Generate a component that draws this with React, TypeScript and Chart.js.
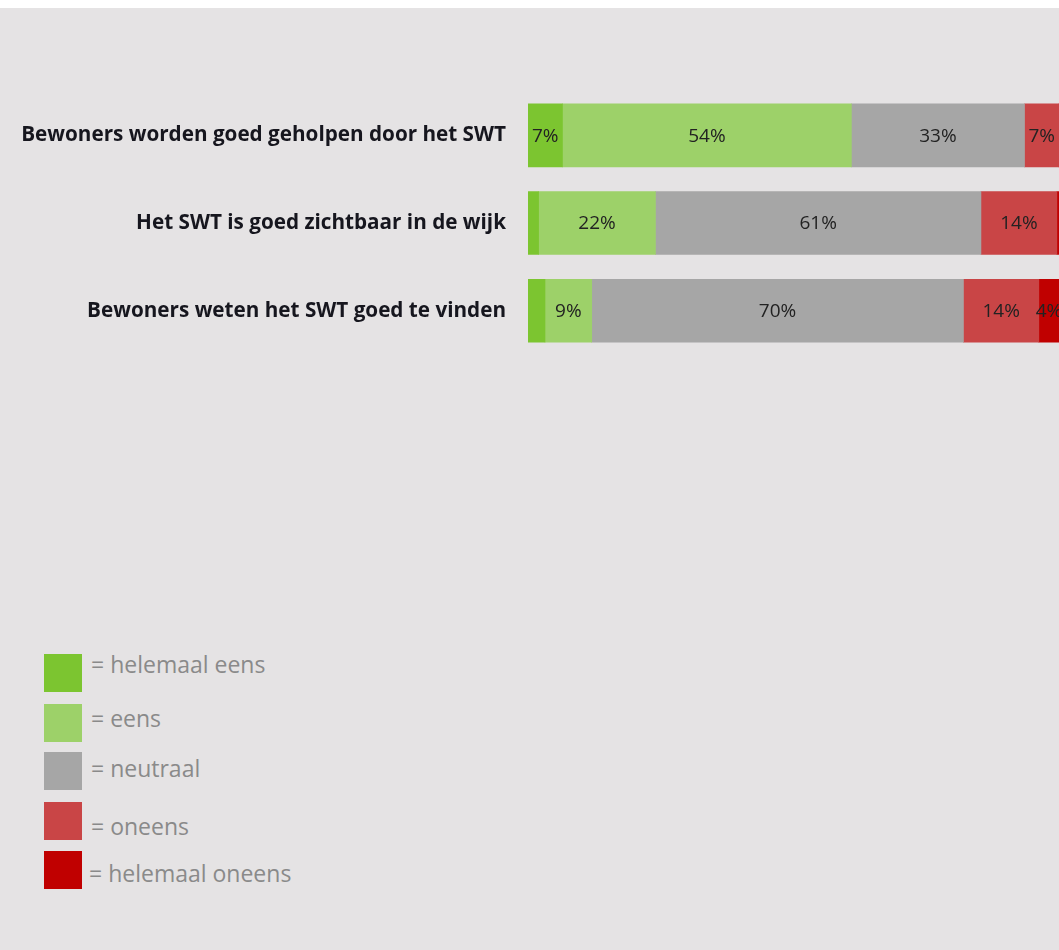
import React, { useEffect, useRef } from "react";
import { Chart, registerables } from "chart.js";

Chart.register(...registerables);

const questions = [
  "Bewoners worden goed geholpen door het SWT",
  "Het SWT is goed zichtbaar in de wijk",
  "Bewoners weten het SWT goed te vinden",
];

const seriesNames = [
  "helemaal eens",
  "eens",
  "neutraal",
  "oneens",
  "helemaal oneens",
];

const seriesColors = ["#7cc530", "#9dd169", "#a6a6a6", "#c94546", "#c00000"];

const helemaalEens = [6.5, 2, 3.2];
const eens = [54.4, 22, 8.8];
const neutraal = [32.6, 61.3, 70];
const oneens = [6.5, 14.3, 14.2];
const helemaalOneens = [0, 0.4, 3.8];

const seriesValues = [helemaalEens, eens, neutraal, oneens, helemaalOneens];

const LABEL_MIN = 4;

// legend layout (page coordinates)
const legendBoxTops = [654, 704, 752, 802, 851];
const legendTextBaselines = [673, 727, 777, 835, 882];
const LEGEND_FONT = 23;

const valueLabelPlugin = {
  id: "valueLabels",
  afterDatasetsDraw(chart: any) {
    const ctx = chart.ctx;
    ctx.save();
    ctx.font = "19px 'Open Sans'";
    ctx.fillStyle = "#222";
    ctx.textAlign = "center";
    ctx.textBaseline = "middle";
    chart.data.datasets.forEach((ds: any, di: number) => {
      const meta = chart.getDatasetMeta(di);
      meta.data.forEach((bar: any, i: number) => {
        const v = Math.round(ds.data[i]);
        if (v < LABEL_MIN) return;
        const cx = (bar.x + bar.base) / 2;
        ctx.fillText(v + "%", cx, bar.y + 1);
      });
    });
    ctx.restore();
  },
};

export default function App() {
  const ref = useRef<HTMLCanvasElement>(null);

  useEffect(() => {
    document.body.style.margin = "0";
    const chart = new Chart(ref.current!, {
      type: "bar",
      data: {
        labels: questions,
        datasets: seriesNames.map((name, i) => ({
          label: name,
          data: seriesValues[i],
          backgroundColor: seriesColors[i],
          borderWidth: 0,
          barThickness: 63,
        })),
      },
      options: {
        indexAxis: "y",
        animation: false,
        responsive: false,
        maintainAspectRatio: false,
        layout: { padding: { top: 83.5, bottom: 13.5, left: 0, right: 0 } },
        plugins: {
          legend: { display: false },
          tooltip: { enabled: false },
        },
        scales: {
          x: {
            stacked: true,
            min: 0,
            max: 100,
            display: false,
          },
          y: {
            stacked: true,
            grid: { display: false, drawTicks: false },
            border: { display: false },
            ticks: {
              padding: 22,
              color: "#16161e",
              font: { family: "'Open Sans'", size: 20.7, weight: "bold" },
            },
            afterFit(scale: any) {
              scale.width = 528;
            },
          },
        },
      },
      plugins: [valueLabelPlugin],
    } as any);
    return () => chart.destroy();
  }, []);

  return (
    <div style={{ background: "#fff", paddingTop: 8 }}>
      <div
        style={{
          position: "relative",
          width: 1059,
          height: 942,
          background: "#e5e3e4",
          overflow: "hidden",
        }}
      >
        <canvas
          ref={ref}
          width={1059}
          height={381}
          style={{ position: "absolute", left: 0, top: 0, width: 1059, height: 381 }}
        />
        {seriesNames.map((name, i) => (
          <React.Fragment key={name}>
            <div
              style={{
                position: "absolute",
                left: 44,
                top: legendBoxTops[i] - 8,
                width: 38,
                height: 38,
                background: seriesColors[i],
              }}
            />
            <div
              style={{
                position: "absolute",
                left: i === 4 ? 89 : 91,
                top: legendTextBaselines[i] - 8 - LEGEND_FONT * 0.888,
                fontFamily: "'Open Sans'",
                fontSize: LEGEND_FONT,
                lineHeight: LEGEND_FONT + "px",
                color: "#8a8a8a",
                whiteSpace: "nowrap",
              }}
            >
              = {name}
            </div>
          </React.Fragment>
        ))}
      </div>
    </div>
  );
}
